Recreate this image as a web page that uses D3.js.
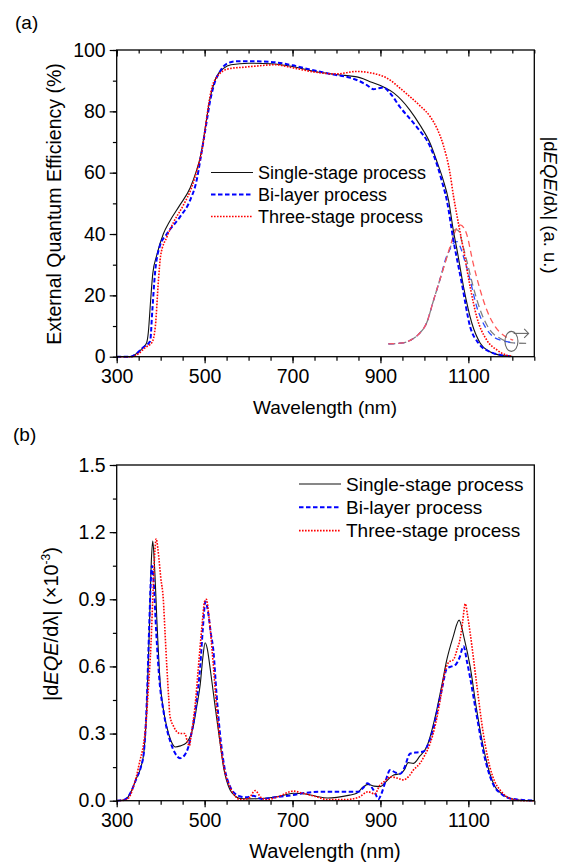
<!DOCTYPE html>
<html>
<head>
<meta charset="utf-8">
<script src="https://cdn.jsdelivr.net/npm/d3@7"></script>
<style>
  body { margin: 0; background: #fff; }
  svg { display: block; }
  text { font-family: Arial, "Liberation Sans", sans-serif; fill: #000; }
</style>
</head>
<body>
<div id="general"></div>
<script>
// ---- data (wavelength nm, value) ----
// panel (a): EQE in %
const eqeSingle = [[300,0],[330,0],[345,1],[360,3],[368,4.5],[372,8],[377,18],[382,27],[391,33],[406,40],[420,44],[444,49.5],[467,55],[480,60],[490,65],[497,70.5],[505,78],[512,84],[520,88.5],[527,91.3],[543,94],[560,95.2],[600,95.7],[650,95.5],[700,94.6],[750,93],[800,92],[853,91],[880,89.5],[906,88],[930,86],[967,80.4],[990,75.5],[1013,69.6],[1030,63],[1043,57.5],[1055,51],[1066,41],[1074,35],[1089,22.8],[1108,10.9],[1127,4.4],[1149,1.6],[1172,0.5],[1200,0.1]];
const eqeBilayer = [[300,0],[330,0],[345,1],[360,3],[376,5],[381,15],[387,27],[398,36],[414,40],[444,45.6],[467,51],[482,57.6],[490,64],[497,70],[505,77],[512,83],[520,88],[535,93],[550,95.5],[570,96.3],[620,96.3],[660,96],[700,95],[750,93.3],[793,92],[830,91],[853,89.8],[870,88.5],[884,87.2],[895,87.5],[906,87.8],[922,85.9],[944,81.5],[982,75],[1013,68.5],[1030,62],[1039,57.6],[1051,51],[1066,38],[1085,24],[1104,9.8],[1123,4.4],[1149,1.6],[1172,0.6],[1200,0.1]];
const eqeThree = [[300,0],[335,0],[350,1],[365,3],[380,4.6],[388,10],[395,25],[400,33],[414,39],[430,44],[452,49.5],[470,55],[485,62],[495,68],[503,76],[510,83],[518,88.5],[527,91],[540,93],[560,94],[590,94.4],[620,94.8],[660,95.2],[700,94.2],[750,92.8],[800,92.2],[846,93],[880,92.5],[922,90.2],[945,87.5],[967,84.8],[990,81.8],[1013,78.3],[1030,74],[1043,69],[1058,60],[1066,52.5],[1078,43],[1089,34.8],[1104,22.8],[1119,13],[1142,5.4],[1165,2.2],[1187,0.5],[1200,0.2]];

// panel (a): |dEQE/dλ| on right axis, arbitrary units
const derSingleA = [[918,0.042],[950,0.045],[970,0.055],[990,0.078],[1005,0.11],[1020,0.18],[1035,0.25],[1050,0.32],[1062,0.37],[1070,0.415],[1078,0.41],[1086,0.37],[1096,0.315],[1111,0.228],[1130,0.141],[1149,0.087],[1172,0.06],[1202,0.045],[1240,0.043]];
const derBilayerA = [[918,0.042],[950,0.045],[970,0.055],[990,0.078],[1005,0.11],[1020,0.18],[1035,0.25],[1050,0.325],[1058,0.35],[1066,0.37],[1074,0.375],[1081,0.36],[1089,0.326],[1104,0.25],[1119,0.163],[1138,0.098],[1157,0.065],[1187,0.049],[1205,0.045]];
const derThreeA = [[918,0.042],[950,0.045],[970,0.055],[990,0.078],[1005,0.11],[1020,0.18],[1035,0.25],[1050,0.32],[1062,0.375],[1072,0.415],[1081,0.43],[1090,0.42],[1096,0.4],[1111,0.304],[1127,0.217],[1142,0.152],[1161,0.098],[1180,0.07],[1202,0.054]];

// panel (b): |dEQE/dλ| (x10^-3)
const derSingle = [[300,0],[315,0.003],[325,0.015],[335,0.05],[345,0.1],[355,0.15],[362,0.22],[368,0.4],[374,0.75],[379,1.08],[382,1.16],[386,1.05],[392,0.78],[399,0.525],[406,0.41],[414,0.33],[423,0.27],[433,0.24],[445,0.245],[459,0.26],[468,0.29],[474,0.33],[482,0.42],[490,0.52],[496,0.64],[501,0.706],[506,0.68],[512,0.6],[520,0.48],[527,0.375],[535,0.26],[543,0.15],[550,0.09],[558,0.048],[570,0.02],[581,0.01],[600,0.008],[630,0.01],[670,0.02],[702,0.033],[730,0.03],[753,0.02],[780,0.012],[801,0.015],[830,0.025],[846,0.033],[860,0.06],[872,0.073],[885,0.065],[899,0.063],[915,0.09],[930,0.115],[945,0.12],[955,0.14],[963,0.17],[975,0.167],[990,0.2],[1005,0.24],[1028,0.405],[1040,0.52],[1051,0.63],[1065,0.73],[1079,0.807],[1090,0.73],[1104,0.6],[1119,0.405],[1134,0.24],[1149,0.12],[1160,0.065],[1172,0.037],[1195,0.01],[1220,0.002],[1250,0]];
const derBilayer = [[300,0],[315,0.003],[325,0.015],[335,0.05],[345,0.1],[355,0.15],[362,0.22],[368,0.42],[374,0.78],[378,1.0],[380,1.05],[384,0.98],[390,0.75],[398,0.52],[406,0.405],[414,0.32],[421,0.27],[432,0.215],[444,0.19],[455,0.205],[463,0.24],[470,0.3],[478,0.39],[485,0.5],[490,0.6],[496,0.77],[502,0.89],[508,0.84],[514,0.75],[520,0.67],[527,0.48],[535,0.3],[545,0.15],[558,0.063],[570,0.03],[580,0.02],[595,0.015],[610,0.022],[630,0.008],[660,0.015],[700,0.025],[730,0.035],[760,0.04],[800,0.04],[850,0.04],[862,0.06],[870,0.078],[880,0.06],[889,0.03],[895,0.006],[902,0.03],[912,0.09],[922,0.137],[935,0.125],[945,0.12],[955,0.15],[967,0.21],[980,0.215],[998,0.22],[1010,0.26],[1020,0.32],[1030,0.41],[1040,0.5],[1051,0.59],[1062,0.6],[1072,0.61],[1080,0.64],[1089,0.69],[1097,0.62],[1104,0.55],[1119,0.38],[1134,0.22],[1149,0.11],[1160,0.06],[1172,0.035],[1195,0.01],[1250,0]];
const derThree = [[300,0],[320,0.003],[330,0.02],[338,0.063],[345,0.11],[353,0.18],[360,0.24],[366,0.33],[372,0.5],[378,0.7],[383,0.95],[387,1.12],[390,1.17],[394,1.12],[400,1.0],[406,0.9],[410,0.75],[414,0.6],[418,0.47],[421,0.38],[430,0.33],[444,0.3],[455,0.3],[460,0.27],[465,0.245],[470,0.3],[478,0.42],[486,0.6],[494,0.78],[500,0.89],[504,0.9],[510,0.82],[520,0.6],[527,0.42],[535,0.27],[545,0.14],[558,0.06],[570,0.02],[580,0.005],[600,0.01],[615,0.045],[628,0.015],[640,0.005],[670,0.02],[694,0.04],[702,0.043],[720,0.035],[750,0.02],[780,0.005],[820,0.005],[850,0.015],[872,0.04],[887,0.03],[899,0.07],[912,0.09],[922,0.107],[940,0.1],[952,0.093],[965,0.11],[975,0.137],[990,0.167],[1000,0.2],[1013,0.256],[1025,0.34],[1036,0.45],[1046,0.57],[1056,0.62],[1066,0.63],[1075,0.68],[1081,0.72],[1087,0.8],[1093,0.88],[1098,0.83],[1104,0.75],[1119,0.52],[1134,0.3],[1149,0.15],[1160,0.085],[1172,0.048],[1195,0.01],[1225,0],[1250,0]];

const legendNames = ["Single-stage process", "Bi-layer process", "Three-stage process"];
const xMajor = [300, 500, 700, 900, 1100];
const xMinor = d3.range(300, 1251, 50);
const yMajorA = [0, 20, 40, 60, 80, 100];
const yMinorA = d3.range(0, 101, 10);
const yMajorB = [0, 0.3, 0.6, 0.9, 1.2, 1.5];
const yMinorB = d3.range(0, 1.51, 0.15);

// ---- styles ----
const styles = [
  { stroke: "#111", width: 1.1, dash: null },
  { stroke: "#0000ff", width: 2, dash: "4.5,2.5" },
  { stroke: "#ff0000", width: 1.6, dash: "1.6,1.4" }
];
const derStylesA = [
  { stroke: "#808080", width: 1.3, dash: "7,4" },
  { stroke: "#2a4bff", width: 1.3, dash: "6,4" },
  { stroke: "#ff5a5a", width: 1.3, dash: "6,4" }
];

const W = 563, H = 862;
const fs = 19.5;

const svg = d3.select("#general").append("svg").attr("width", W).attr("height", H);

const x = d3.scaleLinear().domain([300, 1250]).range([116.7, 534.3]);
const yA = d3.scaleLinear().domain([0, 100]).range([356.7, 50]);
const yR = d3.scaleLinear().domain([0, 1]).range([356.7, 50]);
const yB = d3.scaleLinear().domain([0, 1.5]).range([800.7, 465]);

function drawCurve(g, data, y, st) {
  const line = d3.line().x(d => x(d[0])).y(d => y(d[1])).curve(d3.curveMonotoneX);
  g.append("path")
    .datum(data)
    .attr("fill", "none")
    .attr("stroke", st.stroke)
    .attr("stroke-width", st.width)
    .attr("stroke-dasharray", st.dash)
    .attr("stroke-linejoin", "round")
    .attr("d", line);
}

function styleAxis(ax) {
  ax.select(".domain").remove();
  ax.selectAll("line").attr("stroke", "#000").attr("stroke-width", 1.2);
  ax.selectAll("text").attr("font-size", fs).attr("font-family", "Arial, 'Liberation Sans', sans-serif").attr("fill", "#000");
}

function drawAxes(y, yMajor, yMinor, fmt, topTicks, titleSize) {
  const [y0, y1] = y.range();
  const g = svg.append("g");
  // bottom
  styleAxis(g.append("g").attr("transform", `translate(0,${y0})`)
    .call(d3.axisBottom(x).tickValues(xMinor).tickSize(4).tickFormat("")));
  styleAxis(g.append("g").attr("transform", `translate(0,${y0})`)
    .call(d3.axisBottom(x).tickValues(xMajor).tickSize(6.5).tickPadding(5.5).tickFormat(d3.format("d"))));
  // left
  styleAxis(g.append("g").attr("transform", `translate(${x.range()[0]},0)`)
    .call(d3.axisLeft(y).tickValues(yMinor).tickSize(3.8).tickFormat("")));
  styleAxis(g.append("g").attr("transform", `translate(${x.range()[0]},0)`)
    .call(d3.axisLeft(y).tickValues(yMajor).tickSize(7).tickPadding(4).tickFormat(fmt)));
  if (topTicks) {
    styleAxis(g.append("g").attr("transform", `translate(0,${y1})`)
      .call(d3.axisTop(x).tickValues(xMinor).tickSize(-3.5).tickFormat("")));
    styleAxis(g.append("g").attr("transform", `translate(0,${y1})`)
      .call(d3.axisTop(x).tickValues(xMajor).tickSize(-6.5).tickFormat("")));
  }
  // frame
  g.append("rect")
    .attr("x", x.range()[0]).attr("y", y1)
    .attr("width", x.range()[1] - x.range()[0]).attr("height", y0 - y1)
    .attr("fill", "none").attr("stroke", "#000").attr("stroke-width", 1.3);
  // x title
  g.append("text").attr("x", 325).attr("y", y0 + 57).attr("text-anchor", "middle")
    .attr("font-size", titleSize).text("Wavelength (nm)");
}

function drawLegend(x0, y0, dy, size) {
  const g = svg.append("g");
  legendNames.forEach((name, i) => {
    const st = styles[i];
    g.append("line")
      .attr("x1", x0).attr("x2", x0 + 42)
      .attr("y1", y0 + i * dy).attr("y2", y0 + i * dy)
      .attr("stroke", st.stroke).attr("stroke-width", st.width)
      .attr("stroke-dasharray", st.dash);
    g.append("text")
      .attr("x", x0 + 47).attr("y", y0 + i * dy + size * 0.36)
      .attr("font-size", size).text(name);
  });
}

// ---- panel (a) ----
const gA = svg.append("g");
[derSingleA, derBilayerA, derThreeA].forEach((d, i) => drawCurve(gA, d, yR, derStylesA[i]));
[eqeSingle, eqeBilayer, eqeThree].forEach((d, i) => drawCurve(gA, d, yA, styles[i]));
drawAxes(yA, yMajorA, yMinorA, d3.format("d"), true, 19);
drawLegend(211, 172.5, 22, 18);

// arrow pointing to the right axis
const arrow = svg.append("g").attr("stroke", "#666").attr("fill", "none").attr("stroke-width", 1.1);
arrow.append("ellipse").attr("cx", x(1198)).attr("cy", yR(0.05)).attr("rx", 6.5).attr("ry", 10);
arrow.append("line").attr("x1", x(1203)).attr("x2", x(1237)).attr("y1", yR(0.076)).attr("y2", yR(0.076));
arrow.append("path").attr("d", `M${x(1227)},${yR(0.076) - 4.5}L${x(1237)},${yR(0.076)}L${x(1227)},${yR(0.076) + 4.5}`);

svg.append("text").attr("x", 15).attr("y", 29).attr("font-size", 19).text("(a)");

svg.append("text")
  .attr("transform", "translate(61,204) rotate(-90)")
  .attr("text-anchor", "middle").attr("font-size", 19.5)
  .text("External Quantum Efficiency (%)");

const rt = svg.append("text")
  .attr("transform", "translate(544,205) rotate(90)")
  .attr("text-anchor", "middle").attr("font-size", 18.5);
rt.append("tspan").text("|d");
rt.append("tspan").attr("font-style", "italic").text("EQE");
rt.append("tspan").text("/dλ| (a. u.)");

// ---- panel (b) ----
const gB = svg.append("g");
[derSingle, derBilayer, derThree].forEach((d, i) => drawCurve(gB, d, yB, styles[i]));
drawAxes(yB, yMajorB, yMinorB, d3.format(".1f"), false, 20);
drawLegend(299, 484, 23.3, 19);

svg.append("text").attr("x", 13).attr("y", 441).attr("font-size", 19).text("(b)");

const lt = svg.append("text")
  .attr("transform", "translate(58,624) rotate(-90)")
  .attr("text-anchor", "middle").attr("font-size", 20);
lt.append("tspan").text("|d");
lt.append("tspan").attr("font-style", "italic").text("EQE");
lt.append("tspan").text("/dλ| (×10");
lt.append("tspan").attr("font-size", 12).attr("dy", -8).text("-3");
lt.append("tspan").attr("dy", 8).text(")");
</script>
</body>
</html>
